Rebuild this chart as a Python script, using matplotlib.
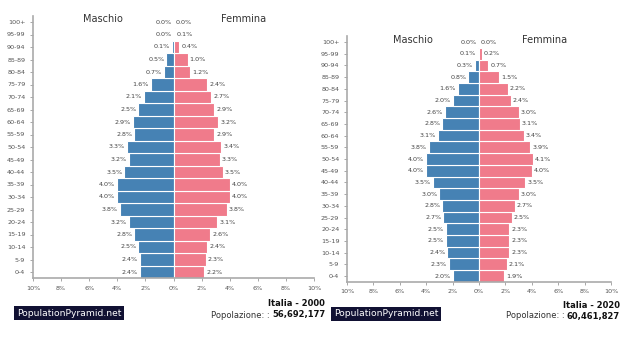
import matplotlib
matplotlib.use("Agg")
import matplotlib.pyplot as plt

# age groups, bottom (0-4) to top (100+)
ages = ["0-4", "5-9", "10-14", "15-19", "20-24", "25-29", "30-34", "35-39",
        "40-44", "45-49", "50-54", "55-59", "60-64", "65-69", "70-74",
        "75-79", "80-84", "85-89", "90-94", "95-99", "100+"]

# percentages, listed bottom to top
male_2000 = [2.4, 2.4, 2.5, 2.8, 3.2, 3.8, 4.0, 4.0, 3.5, 3.2, 3.3,
             2.8, 2.9, 2.5, 2.1, 1.6, 0.7, 0.5, 0.1, 0.0, 0.0]
female_2000 = [2.2, 2.3, 2.4, 2.6, 3.1, 3.8, 4.0, 4.0, 3.5, 3.3, 3.4,
               2.9, 3.2, 2.9, 2.7, 2.4, 1.2, 1.0, 0.4, 0.1, 0.0]
male_2020 = [2.0, 2.3, 2.4, 2.5, 2.5, 2.7, 2.8, 3.0, 3.5, 4.0, 4.0,
             3.8, 3.1, 2.8, 2.6, 2.0, 1.6, 0.8, 0.3, 0.1, 0.0]
female_2020 = [1.9, 2.1, 2.3, 2.3, 2.3, 2.5, 2.7, 3.0, 3.5, 4.0, 4.1,
               3.9, 3.4, 3.1, 3.0, 2.4, 2.2, 1.5, 0.7, 0.2, 0.0]

xticks = [-10, -8, -6, -4, -2, 0, 2, 4, 6, 8, 10]

BLUE = "#4682b4"
PINK = "#f07b8b"
GREY = "#555555"

W, H = 639, 344
fig = plt.figure(figsize=(W / 100, H / 100), dpi=100)


def pyramid(rect, male, female, title, pop, foot_y, box_x, text_x):
    x0, y_top, x1, y_bot = rect  # pixels
    ax = fig.add_axes([x0 / W, (H - y_bot) / H, (x1 - x0) / W, (y_bot - y_top) / H])
    y = range(len(ages))
    ax.barh(y, [-m for m in male], height=1.0, color=BLUE, edgecolor="white", linewidth=0.8)
    ax.barh(y, female, height=1.0, color=PINK, edgecolor="white", linewidth=0.8)
    for i in y:
        ax.text(-male[i] - 0.15, i, f"{male[i]:.1f}%", ha="right", va="center",
                fontsize=4.6, color="#444444")
        ax.text(female[i] + 0.15, i, f"{female[i]:.1f}%", ha="left", va="center",
                fontsize=4.6, color="#444444")
    ax.set_xlim(-10, 10)
    ax.set_ylim(-0.5, len(ages) - 0.5)
    ax.set_yticks(list(y))
    ax.set_yticklabels(ages)
    ax.set_xticks(xticks)
    ax.set_xticklabels([f"{abs(t)}%" for t in xticks])
    ax.tick_params(axis="both", labelsize=4.6, colors="#999999", labelcolor=GREY, length=2, width=0.6)
    for s in ("top", "right"):
        ax.spines[s].set_visible(False)
    for s in ("left", "bottom"):
        ax.spines[s].set_color("#aaaaaa")
        ax.spines[s].set_linewidth(1.2)
    ax.text(-5, 20.2, "Maschio", ha="center", va="center", fontsize=7, color="#333333")
    ax.text(5, 20.2, "Femmina", ha="center", va="center", fontsize=7, color="#333333")

    fig.text(box_x / W, (H - foot_y - 9) / H, "PopulationPyramid.net", fontsize=6.6, color="white",
             ha="left", va="center",
             bbox=dict(boxstyle="square,pad=0.3", facecolor="#111133", edgecolor="none"))
    fig.text(text_x / W, (H - foot_y) / H, title, fontsize=6.0, fontweight="bold",
             ha="right", va="center", color="#111111")
    t = fig.text(text_x / W, (H - foot_y - 11) / H, pop, fontsize=6.0, fontweight="bold",
                 ha="right", va="center", color="#111111")
    fig.canvas.draw()
    bb = t.get_window_extent()
    fig.text(bb.x0 / W, (H - foot_y - 11) / H, "Popolazione: : ", fontsize=6.0,
             ha="right", va="center", color="#333333")


pyramid((33, 15.75, 314, 278.25), male_2000, female_2000,
        "Italia - 2000", "56,692,177", 304, 17, 325)
pyramid((347, 36.15, 611, 281.85), male_2020, female_2020,
        "Italia - 2020", "60,461,827", 305, 334, 620)

fig.savefig("out.png", dpi=100, facecolor="white")
